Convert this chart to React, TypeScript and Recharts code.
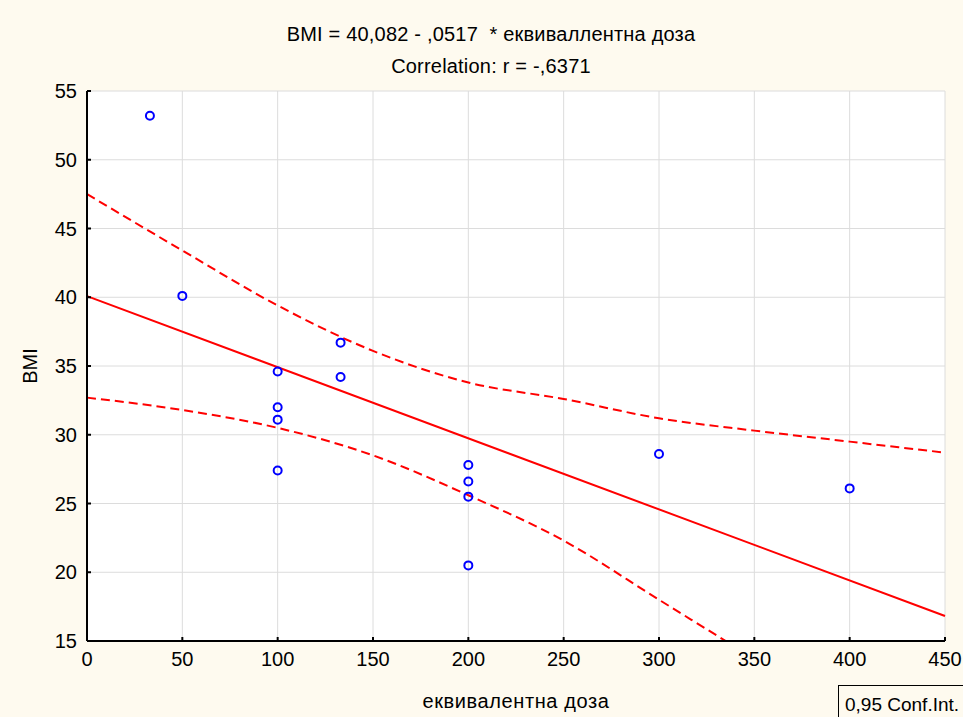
import React from 'react';
import { ComposedChart, Scatter, Line, XAxis, YAxis, CartesianGrid } from 'recharts';

// Observed data points (еквивалентна доза, BMI)
const doseValues = [33, 50, 100, 100, 100, 100, 133, 133, 200, 200, 200, 200, 300, 400];
const bmiValues = [53.2, 40.1, 34.6, 32.0, 31.1, 27.4, 36.7, 34.2, 27.8, 26.6, 25.5, 20.5, 28.6, 26.1];

// Regression line endpoints
const fitX = [0, 450];
const fitY = [40.08, 16.82];

// 0,95 confidence band
const bandX = [0, 50, 100, 150, 200, 250, 300, 350, 400, 450];
const upperBand = [47.5, 43.4, 39.4, 36.1, 33.8, 32.6, 31.2, 30.3, 29.5, 28.7];
const lowerBand = [32.7, 31.8, 30.5, 28.5, 25.6, 22.3, 18.0, 13.7, 9.3, 4.9];

const xTicks = [0, 50, 100, 150, 200, 250, 300, 350, 400, 450];
const yTicks = [15, 20, 25, 30, 35, 40, 45, 50, 55];

const titleLine1 = 'BMI = 40,082 - ,0517  * еквиваллентна доза';
const titleLine2 = 'Correlation: r = -,6371';
const xLabel = 'еквивалентна доза';
const yLabel = 'BMI';
const legendLabel = '0,95 Conf.Int.';

const scatterData = doseValues.map((x, i) => ({ x, y: bmiValues[i] }));
const fitData = fitX.map((x, i) => ({ x, y: fitY[i] }));
const upperData = bandX.map((x, i) => ({ x, y: upperBand[i] }));
const lowerData = bandX.map((x, i) => ({ x, y: lowerBand[i] }));

const FONT = '"Liberation Sans", Arial, sans-serif';
const FS = 20;
const BG = '#FEFAEF';
const RED = '#FF0000';
const BLUE = '#0000FF';

const X_MARGIN = 11;
const Y_MARGIN = 10;
const TICK_LEN = 4;

const BottomTick = (p: any) => {
  const { x, y, payload } = p;
  const ay = y - X_MARGIN;
  return (
    <g>
      <line x1={x} y1={ay} x2={x} y2={ay - TICK_LEN} stroke="#000" strokeWidth={2} />
      <text x={x} y={y} dy="0.71em" textAnchor="middle" fontFamily={FONT} fontSize={FS} fill="#000">
        {payload.value}
      </text>
    </g>
  );
};

const LeftTick = (p: any) => {
  const { x, y, payload } = p;
  const ax = x + Y_MARGIN;
  return (
    <g>
      <line x1={ax} y1={y} x2={ax + TICK_LEN} y2={y} stroke="#000" strokeWidth={2} />
      <text x={x} y={y} dy="0.355em" textAnchor="end" fontFamily={FONT} fontSize={FS} fill="#000">
        {payload.value}
      </text>
    </g>
  );
};

const TopTick = (p: any) => {
  const { x, y } = p;
  return <line x1={x} y1={y} x2={x} y2={y + TICK_LEN} stroke="#000" strokeWidth={2} />;
};

const RightTick = (p: any) => {
  const { x, y } = p;
  return <line x1={x} y1={y} x2={x - TICK_LEN} y2={y} stroke="#000" strokeWidth={2} />;
};

const OpenCircle = (p: any) => (
  <circle cx={p.cx} cy={p.cy} r={4} fill="none" stroke={BLUE} strokeWidth={2} />
);

const textStyle: React.CSSProperties = {
  position: 'absolute',
  fontFamily: FONT,
  fontSize: FS,
  lineHeight: '22px',
  color: '#000',
  whiteSpace: 'pre',
  textAlign: 'center',
};

export default function App() {
  return (
    <div style={{ position: 'absolute', left: 0, top: 0, width: 963, height: 717, background: BG, overflow: 'hidden' }}>
      <ComposedChart
        width={963}
        height={717}
        margin={{ top: 91, right: 18, bottom: 0, left: 0 }}
        style={{ fontFamily: FONT }}
      >
        <CartesianGrid xAxisId="b" yAxisId="l" stroke="#DCDCDC" strokeWidth={1} fill="#FFFFFF" />
        <XAxis
          xAxisId="b"
          type="number"
          dataKey="x"
          domain={[0, 450]}
          ticks={xTicks}
          interval={0}
          height={76}
          tickSize={0}
          tickMargin={X_MARGIN}
          tickLine={false}
          axisLine={{ stroke: '#000', strokeWidth: 2 }}
          tick={<BottomTick />}
        />
        <XAxis
          xAxisId="t"
          orientation="top"
          type="number"
          dataKey="x"
          domain={[0, 450]}
          ticks={xTicks}
          interval={0}
          height={0}
          tickSize={0}
          tickMargin={0}
          tickLine={false}
          axisLine={{ stroke: '#000', strokeWidth: 2 }}
          tick={<TopTick />}
        />
        <YAxis
          yAxisId="l"
          type="number"
          dataKey="y"
          domain={[15, 55]}
          ticks={yTicks}
          interval={0}
          allowDataOverflow
          width={87}
          tickSize={0}
          tickMargin={Y_MARGIN}
          tickLine={false}
          axisLine={{ stroke: '#000', strokeWidth: 2 }}
          tick={<LeftTick />}
        />
        <YAxis
          yAxisId="r"
          orientation="right"
          type="number"
          dataKey="y"
          domain={[15, 55]}
          ticks={yTicks}
          interval={0}
          allowDataOverflow
          width={0}
          tickSize={0}
          tickMargin={0}
          tickLine={false}
          axisLine={{ stroke: '#000', strokeWidth: 2 }}
          tick={<RightTick />}
        />
        <Line
          xAxisId="b"
          yAxisId="l"
          data={upperData}
          dataKey="y"
          type="monotone"
          stroke={RED}
          strokeWidth={2}
          strokeDasharray="9 5"
          dot={false}
          activeDot={false}
          isAnimationActive={false}
        />
        <Line
          xAxisId="b"
          yAxisId="l"
          data={lowerData}
          dataKey="y"
          type="monotone"
          stroke={RED}
          strokeWidth={2}
          strokeDasharray="9 5"
          dot={false}
          activeDot={false}
          isAnimationActive={false}
        />
        <Line
          xAxisId="b"
          yAxisId="l"
          data={fitData}
          dataKey="y"
          type="linear"
          stroke={RED}
          strokeWidth={2}
          dot={false}
          activeDot={false}
          isAnimationActive={false}
        />
        <Scatter
          xAxisId="b"
          yAxisId="l"
          data={scatterData}
          dataKey="y"
          shape={<OpenCircle />}
          isAnimationActive={false}
        />
      </ComposedChart>

      <div style={{ ...textStyle, left: 191, width: 600, top: 23, letterSpacing: 0.2 }}>{titleLine1}</div>
      <div style={{ ...textStyle, left: 191, width: 600, top: 55, letterSpacing: 0.2 }}>{titleLine2}</div>
      <div style={{ ...textStyle, left: 316, width: 400, top: 690, letterSpacing: 0.6 }}>{xLabel}</div>
      <div
        style={{
          ...textStyle,
          left: 30 - 40,
          width: 80,
          top: 366 - 11,
          transform: 'rotate(-90deg)',
        }}
      >
        {yLabel}
      </div>
      <div
        style={{
          position: 'absolute',
          left: 838,
          top: 685,
          width: 140,
          height: 40,
          border: '1px solid #000',
          boxSizing: 'border-box',
        }}
      >
        <div style={{ ...textStyle, position: 'absolute', left: 6, top: 8, textAlign: 'left', fontSize: 19 }}>{legendLabel}</div>
      </div>
    </div>
  );
}
